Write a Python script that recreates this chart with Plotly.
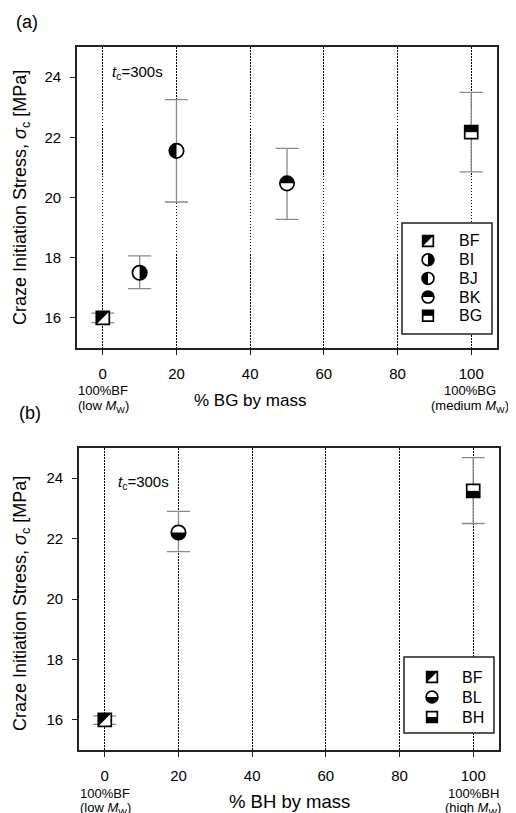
import plotly.graph_objects as go

# page is 516x813; the browser body has an 8px margin, so the figure
# is sized to fill the rest and all positions below are page pixels.
PAGE_W, PAGE_H = 516, 813
OFF = 8
W, H = PAGE_W - OFF, PAGE_H - OFF

# ---------------- data ----------------
# panel (a): BF / BG blends
names_a = ["BF", "BI", "BJ", "BK", "BG"]
x_a = [0, 10, 20, 50, 100]
y_a = [16.0, 17.5, 21.55, 20.47, 22.17]
eplus_a = [0.16, 0.56, 1.70, 1.16, 1.32]
eminus_a = [0.16, 0.53, 1.70, 1.20, 1.32]

# panel (b): BF / BH blends
names_b = ["BF", "BL", "BH"]
x_b = [0, 20, 100]
y_b = [16.0, 22.2, 23.58]
eplus_b = [0.13, 0.70, 1.10]
eminus_b = [0.15, 0.63, 1.08]

xticks = [0, 20, 40, 60, 80, 100]
yticks = [16, 18, 20, 22, 24]

# marker style per material: (outline shape, black part)
MARKERS = {
    "BF": ("square", "diag"),
    "BI": ("circle", "right"),
    "BJ": ("circle", "left"),
    "BK": ("circle", "top"),
    "BG": ("square", "top"),
    "BL": ("circle", "bottom"),
    "BH": ("square", "bottom"),
}

FONT = "Liberation Sans, Arial, sans-serif"
AX = "#222222"


def px(v):
    return (v - OFF) / W


def py(v):
    return 1 - (v - OFF) / H


def full_path(kind, s):
    if kind == "square":
        return f"M {-s},{-s} L {-s},{s} L {s},{s} L {s},{-s} Z"
    k = 0.5523 * s
    return (f"M {s},0 C {s},{k} {k},{s} 0,{s} C {-k},{s} {-s},{k} {-s},0 "
            f"C {-s},{-k} {-k},{-s} 0,{-s} C {k},{-s} {s},{-k} {s},0 Z")


def half_path(kind, half, s):
    if kind == "square":
        if half == "diag":
            return f"M {-s},{-s} L {-s},{s} L {s},{s} Z"
        if half == "top":
            return f"M {-s},0 L {-s},{s} L {s},{s} L {s},0 Z"
        return f"M {-s},0 L {-s},{-s} L {s},{-s} L {s},0 Z"
    k = 0.5523 * s
    if half == "right":
        return f"M 0,{s} C {k},{s} {s},{k} {s},0 C {s},{-k} {k},{-s} 0,{-s} Z"
    if half == "left":
        return f"M 0,{s} C {-k},{s} {-s},{k} {-s},0 C {-s},{-k} {-k},{-s} 0,{-s} Z"
    if half == "top":
        return f"M {-s},0 C {-s},{k} {-k},{s} 0,{s} C {k},{s} {s},{k} {s},0 Z"
    return f"M {-s},0 C {-s},{-k} {-k},{-s} 0,{-s} C {k},{-s} {s},{-k} {s},0 Z"


def marker_shapes(name, xref, yref, xa, ya, scale=1.0):
    kind, half = MARKERS[name]
    s = (6.5 if kind == "square" else 7.2) * scale
    common = dict(type="path", xref=xref, yref=yref, xsizemode="pixel",
                  ysizemode="pixel", xanchor=xa, yanchor=ya)
    return [
        dict(path=full_path(kind, s), fillcolor="white",
             line=dict(width=0), **common),
        dict(path=half_path(kind, half, s), fillcolor="black",
             line=dict(width=0), **common),
        dict(path=full_path(kind, s), fillcolor="rgba(0,0,0,0)",
             line=dict(color="black", width=1.7), **common),
    ]


fig = go.Figure()

panels = [
    dict(names=names_a, x=x_a, y=y_a, ep=eplus_a, em=eminus_a, xa="x", ya="y"),
    dict(names=names_b, x=x_b, y=y_b, ep=eplus_b, em=eminus_b, xa="x2", ya="y2"),
]

shapes = []
for p in panels:
    fig.add_trace(go.Scatter(
        x=p["x"], y=p["y"], mode="markers", text=p["names"],
        xaxis=p["xa"], yaxis=p["ya"], showlegend=False,
        marker=dict(size=12, color="rgba(0,0,0,0)"),
        error_y=dict(type="data", array=p["ep"], arrayminus=p["em"],
                     color="#8a8a8a", thickness=1.3, width=11.5),
        hovertemplate="%{text}: %{y}<extra></extra>",
    ))
    for n, xv, yv in zip(p["names"], p["x"], p["y"]):
        shapes += marker_shapes(n, p["xa"], p["ya"], xv, yv)

# ---------------- legends (drawn boxes) ----------------
legends = [
    dict(names=names_a, box=(402, 223, 492, 334), rows=(241, 18.7), mx=428, tx=457),
    dict(names=names_b, box=(404, 657, 494, 733), rows=(677, 20.0), mx=432, tx=460),
]
annotations = []
for lg in legends:
    x0, y0, x1, y1 = lg["box"]
    shapes.append(dict(type="rect", xref="paper", yref="paper",
                       x0=px(x0), x1=px(x1), y0=py(y1), y1=py(y0),
                       fillcolor="white", line=dict(color=AX, width=1.5)))
    for i, n in enumerate(lg["names"]):
        yy = lg["rows"][0] + i * lg["rows"][1]
        shapes += marker_shapes(n, "paper", "paper", px(lg["mx"]), py(yy), scale=0.82)
        annotations.append(dict(text=n, xref="paper", yref="paper",
                                x=px(lg["tx"]), y=py(yy), xanchor="left",
                                yanchor="middle", showarrow=False,
                                font=dict(size=16, color="black")))

# ---------------- texts ----------------
ytitle = "Craze Initiation Stress, <i>σ</i><sub>c</sub> [MPa]"
texts = [
    ("(a)", 14, 22, "left", 18, 0),
    ("(b)", 17, 413, "left", 18, 0),
    (ytitle, 21, 198, "center", 18, -90),
    (ytitle, 21, 604, "center", 18, -90),
    ("<i>t</i><sub>c</sub>=300s", 110, 72, "left", 15, 0),
    ("<i>t</i><sub>c</sub>=300s", 116, 482, "left", 15, 0),
    ("% BG by mass", 250, 400, "center", 17, 0),
    ("% BH by mass", 289, 801, "center", 18.5, 0),
    ("100%BF", 103, 390, "center", 13, 0),
    ("(low <i>M</i><sub>W</sub>)", 103, 406, "center", 13, 0),
    ("100%BG", 470, 390, "center", 13, 0),
    ("(medium <i>M</i><sub>W</sub>)", 470, 406, "center", 13, 0),
    ("100%BF", 105, 793, "center", 13, 0),
    ("(low <i>M</i><sub>W</sub>)", 105, 808, "center", 13, 0),
    ("100%BH", 473, 793, "center", 13, 0),
    ("(high <i>M</i><sub>W</sub>)", 473, 808, "center", 13, 0),
]
for t, x, y, xa, fs, ang in texts:
    annotations.append(dict(text=t, xref="paper", yref="paper", x=px(x), y=py(y),
                            xanchor=xa, yanchor="middle", showarrow=False,
                            textangle=ang, font=dict(size=fs, color="black")))

xcommon = dict(range=[-7, 107], tickvals=xticks, ticks="outside", ticklen=5,
               tickwidth=1.3, tickcolor=AX, showgrid=True, gridcolor="black",
               griddash="1.5px,1.5px", gridwidth=1.3, showline=True,
               linecolor=AX, linewidth=1.6, mirror=True, zeroline=False,
               tickfont=dict(size=15, color="black"), ticklabelstandoff=6,
               automargin=False)
ycommon = dict(range=[15, 25], tickvals=yticks, ticks="outside", ticklen=5,
               tickwidth=1.3, tickcolor=AX, showgrid=False, showline=True,
               linecolor=AX, linewidth=1.6, mirror=True, zeroline=False,
               tickfont=dict(size=15, color="black"), ticklabelstandoff=6,
               automargin=False)

fig.update_layout(
    width=W, height=H,
    margin=dict(l=0, r=0, t=0, b=0),
    paper_bgcolor="white", plot_bgcolor="white",
    font=dict(family=FONT, color="black"),
    xaxis=dict(domain=[px(77), px(497)], anchor="y", **xcommon),
    yaxis=dict(domain=[py(348), py(47)], anchor="x", **ycommon),
    xaxis2=dict(domain=[px(79), px(499)], anchor="y2", **xcommon),
    yaxis2=dict(domain=[py(750), py(448)], anchor="x2", **ycommon),
    shapes=shapes,
    annotations=annotations,
    showlegend=False,
)

fig.write_html("out.html")
